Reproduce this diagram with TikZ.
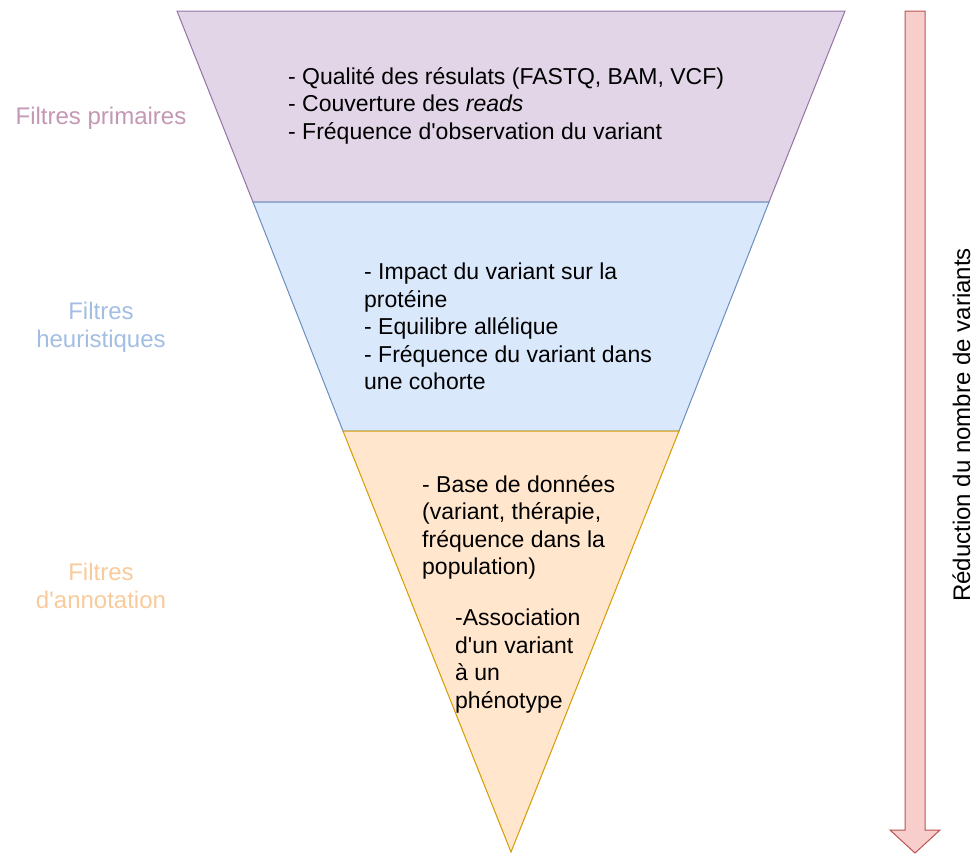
\documentclass[tikz,border=0pt]{standalone}
\usepackage{fontspec}
\setmainfont{Liberation Sans}[Ligatures=TeXOff]
\definecolor{pfill}{HTML}{E1D5E7}
\definecolor{pline}{HTML}{9673A6}
\definecolor{bfill}{HTML}{DAE8FC}
\definecolor{bline}{HTML}{6C8EBF}
\definecolor{ofill}{HTML}{FFE6CC}
\definecolor{oline}{HTML}{D79B00}
\definecolor{rfill}{HTML}{F8CECC}
\definecolor{rline}{HTML}{B85450}
\definecolor{ptext}{HTML}{C397B5}
\definecolor{btext}{HTML}{A3BEE3}
\definecolor{otext}{HTML}{F9CA9B}
\tikzset{
  band/.style={line width=1pt, line join=miter},
  body/.style={inner sep=0pt, align=left, font=\fontsize{23}{27.5}\selectfont},
  side/.style={inner sep=0pt, align=center, font=\fontsize{24}{28}\selectfont},
}
\begin{document}
\begin{tikzpicture}[x=1pt,y=-1pt]
\useasboundingbox (0,0) rectangle (974,854);
% funnel
\coordinate (tl) at (177,11);
\coordinate (tr) at (845,11);
\coordinate (ml) at (253,202);
\coordinate (mr) at (769,202);
\coordinate (bl) at (343,431);
\coordinate (br) at (679,431);
\coordinate (tip) at (511,852);
\draw[band, fill=pfill, draw=pline] (tl) -- (tr) -- (mr) -- (ml) -- cycle;
\draw[band, fill=bfill, draw=bline] (ml) -- (mr) -- (br) -- (bl) -- cycle;
\draw[band, fill=ofill, draw=oline] (bl) -- (br) -- (tip) -- cycle;
% texts in funnel
\node[body, anchor=west] (t1) at (288,105.5) {- Qualité des résulats (FASTQ, BAM, VCF)\\- Couverture des \textit{reads}\\- Fréquence d'observation du variant};
\node[body, anchor=west] (t2) at (364,326.5) {- Impact du variant sur la\\protéine\\- Equilibre allélique\\- Fréquence du variant dans\\une cohorte};
\node[body, anchor=west] (t3) at (422,527.5) {- Base de données\\(variant, thérapie,\\fréquence dans la\\population)};
\node[body, anchor=west] (t4) at (455,661) {-Association\\d'un variant\\à un\\phénotype};
% side labels
\node[side, text=ptext] (l1) at (101,118) {Filtres primaires};
\node[side, text=btext] (l2) at (101,327) {Filtres\\heuristiques};
\node[side, text=otext] (l3) at (101,586) {Filtres\\d'annotation};
% arrow
\draw[line width=1pt, fill=rfill, draw=rline, line join=miter]
  (905,11) -- (925,11) -- (925,830) -- (940,830) -- (915,853) -- (890,830) -- (905,830) -- cycle;
\node[side, rotate=90, anchor=base] (ar) at (970,425) {Réduction du nombre de variants};
\end{tikzpicture}
\end{document}
